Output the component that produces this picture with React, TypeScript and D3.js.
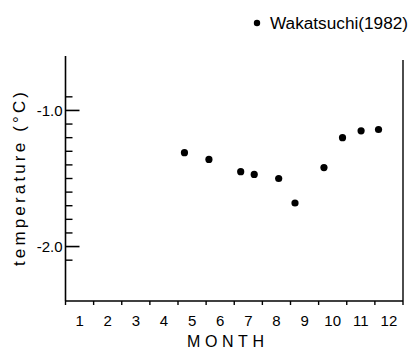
import React from "react";
import * as d3 from "d3";

// Data
const months = [4.73, 5.6, 6.73, 7.21, 8.08, 8.66, 9.69, 10.35, 11.01, 11.63];
const temps = [-1.31, -1.36, -1.45, -1.47, -1.5, -1.68, -1.42, -1.2, -1.15, -1.14];
const monthLabels = ["1", "2", "3", "4", "5", "6", "7", "8", "9", "10", "11", "12"];
const yMajorTicks = [-1.0, -2.0];
const yMinorTicks = [-2.1, -1.9, -1.8, -1.7, -1.6, -1.5, -1.4, -1.3, -1.2, -1.1, -0.9];
const legendLabel = "Wakatsuchi(1982)";

const W = 411;
const H = 349;
const left = 65.5;
const right = 403;
const top = 56;
const bottom = 301;

export default function App() {
  const x = d3.scaleLinear().domain([0.5, 12.5]).range([left, right]);
  const y = d3.scaleLinear().domain([-2.4, -0.6]).range([bottom, top]);
  const font = "'Liberation Sans', Arial, Helvetica, sans-serif";
  const boundaries = d3.range(0, 13).map((i) => i + 0.5);

  return (
    <svg
      width={W}
      height={H}
      style={{ position: "absolute", left: 0, top: 0, background: "#fff" }}
      fontFamily={font}
    >
      <rect width={W} height={H} fill="#fff" />
      {/* axes */}
      <line x1={left} y1={top} x2={left} y2={bottom} stroke="#000" strokeWidth={1.6} />
      <line x1={left} y1={bottom} x2={right} y2={bottom} stroke="#000" strokeWidth={1.6} />
      <line x1={right} y1={top + 4} x2={right} y2={bottom} stroke="#000" strokeWidth={1.4} />

      {/* y ticks */}
      {yMajorTicks.map((v) => (
        <g key={"M" + v}>
          <line x1={left} x2={left + 14} y1={y(v)} y2={y(v)} stroke="#000" strokeWidth={1.6} />
          <text x={left - 3} y={y(v)} dy="0.36em" textAnchor="end" fontSize={15}>
            {d3.format(".1f")(v).replace("−", "-")}
          </text>
        </g>
      ))}
      {yMinorTicks.map((v) => (
        <line key={"m" + v} x1={left} x2={left + 7} y1={y(v)} y2={y(v)} stroke="#000" strokeWidth={1.4} />
      ))}

      {/* x ticks */}
      {boundaries.map((b) => (
        <line key={"xb" + b} x1={x(b)} x2={x(b)} y1={bottom} y2={bottom + 4} stroke="#000" strokeWidth={1.4} />
      ))}
      {monthLabels.map((m, i) => (
        <text key={"xl" + m} x={x(i + 1)} y={326} textAnchor="middle" fontSize={15}>
          {m}
        </text>
      ))}

      {/* axis titles */}
      <text x={187} y={347} fontSize={16} textLength={77} lengthAdjust="spacing">
        MONTH
      </text>
      <text
        transform="translate(25,266) rotate(-90)"
        fontSize={17}
        textLength={174}
        lengthAdjust="spacing"
      >
        temperature (°C)
      </text>

      {/* points */}
      {months.map((m, i) => (
        <circle key={"p" + i} cx={x(m)} cy={y(temps[i])} r={3.6} fill="#000" />
      ))}

      {/* legend */}
      <circle cx={257} cy={23} r={3.2} fill="#000" />
      <text x={270} y={29} fontSize={16} textLength={138} lengthAdjust="spacingAndGlyphs">
        {legendLabel}
      </text>
    </svg>
  );
}
